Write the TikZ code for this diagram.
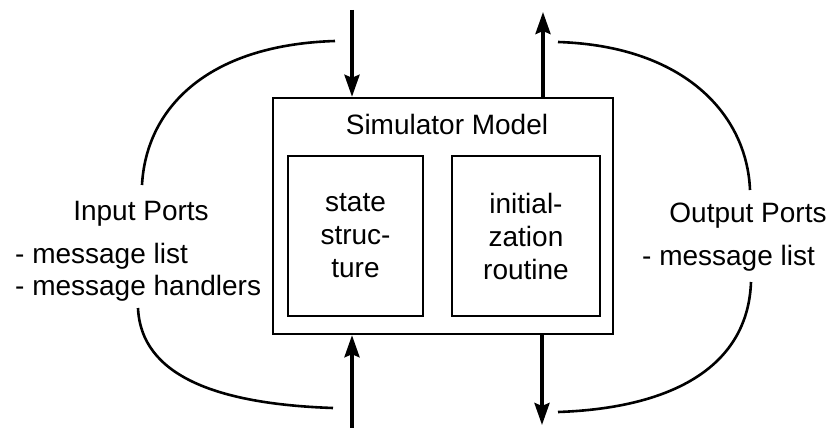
\documentclass[tikz,border=0pt]{standalone}
\usepackage{fontspec}
\setmainfont{Liberation Sans}
\usetikzlibrary{arrows.meta}
\begin{document}
\begin{tikzpicture}[x=1pt,y=-1pt,
  box/.style={draw,line width=2.4pt,rectangle,inner sep=0pt},
  label/.style={font=\fontsize{28}{33}\selectfont,inner sep=0pt},
  flow/.style={line width=3.6pt,-{Stealth[length=22pt,width=15pt,inset=3pt]}},
  port/.style={line width=2.6pt}]
\useasboundingbox (0,0) rectangle (836,428);

% simulator model and its two parts
\node[box,minimum width=340pt,minimum height=236pt] (model) at (443,216) {};
\node[label,anchor=base] (title) at (447,135) {Simulator Model};
\node[box,minimum width=135pt,minimum height=160pt,align=center,label] (state) at (355.5,236)
  {state\\struc-\\ture};
\node[box,minimum width=148pt,minimum height=160pt,align=center,label] (init) at (526,236)
  {initial-\\zation\\routine};

% message flow in and out
\coordinate (intop) at (352,10);
\coordinate (inbot) at (352,428);
\coordinate (outtop) at (543,12);
\coordinate (outbot) at (542,425);
\draw[flow] (intop) -- (intop |- model.north);
\draw[flow] (inbot) -- (inbot |- model.south);
\draw[flow] (outtop |- model.north) -- (outtop);
\draw[flow] (outbot |- model.south) -- (outbot);

% port descriptions
\node[label,anchor=base] (inports) at (141,220) {Input Ports};
\node[label,anchor=base west] (inlist1) at (15,263) {- message list};
\node[label,anchor=base west] (inlist2) at (15,295) {- message handlers};
\node[label,anchor=base] (outports) at (748,222) {Output Ports};
\node[label,anchor=base west] (outlist) at (642,265) {- message list};

% brackets around the port groups
\coordinate (ia) at (335,41);  \coordinate (ib) at (142,185);
\coordinate (ic) at (138,308); \coordinate (id) at (333,408);
\coordinate (oa) at (558,42);  \coordinate (ob) at (750,190);
\coordinate (oc) at (751,282); \coordinate (od) at (558,412);
\draw[port] (ia) .. controls (205,45) and (146,110) .. (ib);
\draw[port] (ic) .. controls (141,375) and (215,404) .. (id);
\draw[port] (oa) .. controls (685,46) and (747,115) .. (ob);
\draw[port] (oc) .. controls (748,365) and (675,408) .. (od);
\end{tikzpicture}
\end{document}
